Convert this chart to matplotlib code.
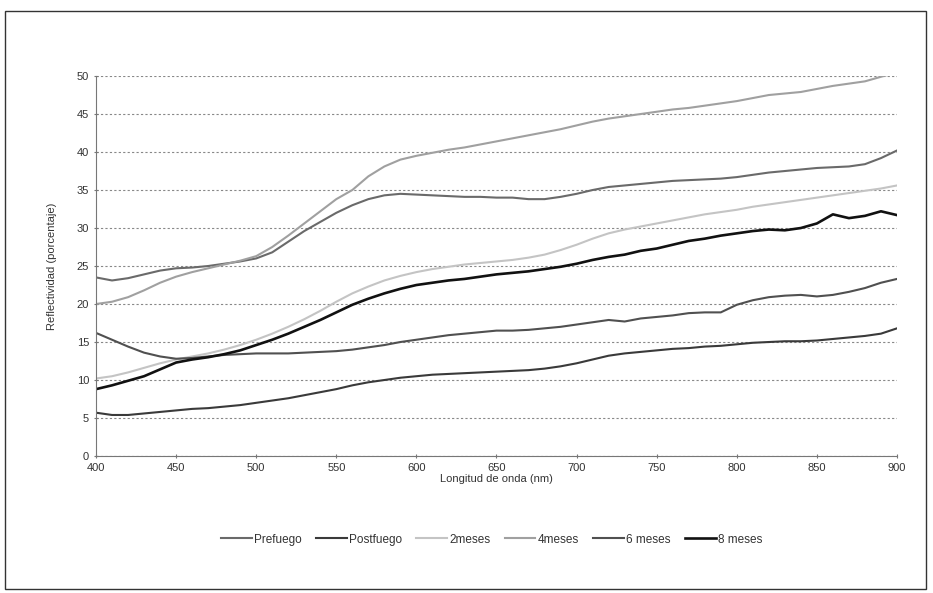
import matplotlib.pyplot as plt
from matplotlib.patches import Rectangle

plt.rcParams['font.family'] = ['Liberation Sans', 'DejaVu Sans']

wl = list(range(400, 901, 10))

prefuego = [23.5, 23.1, 23.4, 23.9, 24.4, 24.7, 24.8, 25.0, 25.3, 25.6,
            26.0, 26.8, 28.2, 29.6, 30.8, 32.0, 33.0, 33.8, 34.3, 34.5,
            34.4, 34.3, 34.2, 34.1, 34.1, 34.0, 34.0, 33.8, 33.8, 34.1,
            34.5, 35.0, 35.4, 35.6, 35.8, 36.0, 36.2, 36.3, 36.4, 36.5,
            36.7, 37.0, 37.3, 37.5, 37.7, 37.9, 38.0, 38.1, 38.4, 39.2, 40.2]
postfuego = [5.7, 5.4, 5.4, 5.6, 5.8, 6.0, 6.2, 6.3, 6.5, 6.7,
             7.0, 7.3, 7.6, 8.0, 8.4, 8.8, 9.3, 9.7, 10.0, 10.3,
             10.5, 10.7, 10.8, 10.9, 11.0, 11.1, 11.2, 11.3, 11.5, 11.8,
             12.2, 12.7, 13.2, 13.5, 13.7, 13.9, 14.1, 14.2, 14.4, 14.5,
             14.7, 14.9, 15.0, 15.1, 15.1, 15.2, 15.4, 15.6, 15.8, 16.1, 16.8]
meses2 = [10.2, 10.5, 11.0, 11.6, 12.2, 12.7, 13.1, 13.5, 14.0, 14.6,
          15.3, 16.1, 17.0, 18.0, 19.1, 20.3, 21.4, 22.3, 23.1, 23.7,
          24.2, 24.6, 24.9, 25.2, 25.4, 25.6, 25.8, 26.1, 26.5, 27.1,
          27.8, 28.6, 29.3, 29.8, 30.2, 30.6, 31.0, 31.4, 31.8, 32.1,
          32.4, 32.8, 33.1, 33.4, 33.7, 34.0, 34.3, 34.6, 34.9, 35.2, 35.6]
meses4 = [20.0, 20.3, 20.9, 21.8, 22.8, 23.6, 24.2, 24.7, 25.2, 25.7,
          26.3, 27.5, 29.0, 30.6, 32.2, 33.8, 35.0, 36.8, 38.1, 39.0,
          39.5, 39.9, 40.3, 40.6, 41.0, 41.4, 41.8, 42.2, 42.6, 43.0,
          43.5, 44.0, 44.4, 44.7, 45.0, 45.3, 45.6, 45.8, 46.1, 46.4,
          46.7, 47.1, 47.5, 47.7, 47.9, 48.3, 48.7, 49.0, 49.3, 49.9, 50.5]
meses6 = [16.2, 15.3, 14.4, 13.6, 13.1, 12.8, 12.9, 13.1, 13.3, 13.4,
          13.5, 13.5, 13.5, 13.6, 13.7, 13.8, 14.0, 14.3, 14.6, 15.0,
          15.3, 15.6, 15.9, 16.1, 16.3, 16.5, 16.5, 16.6, 16.8, 17.0,
          17.3, 17.6, 17.9, 17.7, 18.1, 18.3, 18.5, 18.8, 18.9, 18.9,
          19.9, 20.5, 20.9, 21.1, 21.2, 21.0, 21.2, 21.6, 22.1, 22.8, 23.3]
meses8 = [8.8, 9.3, 9.9, 10.5, 11.4, 12.3, 12.7, 13.0, 13.4, 13.9,
          14.6, 15.3, 16.1, 17.0, 17.9, 18.9, 19.9, 20.7, 21.4, 22.0,
          22.5, 22.8, 23.1, 23.3, 23.6, 23.9, 24.1, 24.3, 24.6, 24.9,
          25.3, 25.8, 26.2, 26.5, 27.0, 27.3, 27.8, 28.3, 28.6, 29.0,
          29.3, 29.6, 29.8, 29.7, 30.0, 30.6, 31.8, 31.3, 31.6, 32.2, 31.7]

fig = plt.figure(figsize=(9.33, 5.93), dpi=100)
ax = fig.add_axes([0.1029, 0.231, 0.8585, 0.6408])

# outer frame
fig.patches.append(Rectangle((0.005, 0.006), 0.987, 0.976, transform=fig.transFigure,
                             fill=False, edgecolor='#333333', lw=1.0))

ax.plot(wl, prefuego, color='#6a6a6a', lw=1.5, label='Prefuego')
ax.plot(wl, postfuego, color='#3a3a3a', lw=1.5, label='Postfuego')
ax.plot(wl, meses2, color='#c4c4c4', lw=1.5, label='2meses')
ax.plot(wl, meses4, color='#a0a0a0', lw=1.5, label='4meses')
ax.plot(wl, meses6, color='#505050', lw=1.5, label='6 meses')
ax.plot(wl, meses8, color='#111111', lw=1.9, label='8 meses')

ax.set_xlim(400, 900)
ax.set_ylim(0, 50)
ax.set_xticks(range(400, 901, 50))
ax.set_yticks(range(0, 51, 5))
ax.yaxis.grid(True, color='#888888', linestyle=(0, (2, 2)), lw=0.8)
ax.set_axisbelow(True)
for s in ['top', 'right']:
    ax.spines[s].set_visible(False)
for s in ['left', 'bottom']:
    ax.spines[s].set_color('#777777')
ax.tick_params(colors='#777777', labelcolor='#333333', labelsize=8, length=3, direction='inout')

ax.set_xlabel('Longitud de onda (nm)', fontsize=8, color='#333333', labelpad=1)
ax.set_ylabel('Reflectividad (porcentaje)', fontsize=8, color='#333333', labelpad=14)

fig.legend(loc='center', bbox_to_anchor=(0.527, 0.09), ncol=6, frameon=False,
           fontsize=8.5, handlelength=2.6, columnspacing=1.2, handletextpad=0.2,
           labelcolor='#333333')

fig.savefig('out.png', dpi=100)
